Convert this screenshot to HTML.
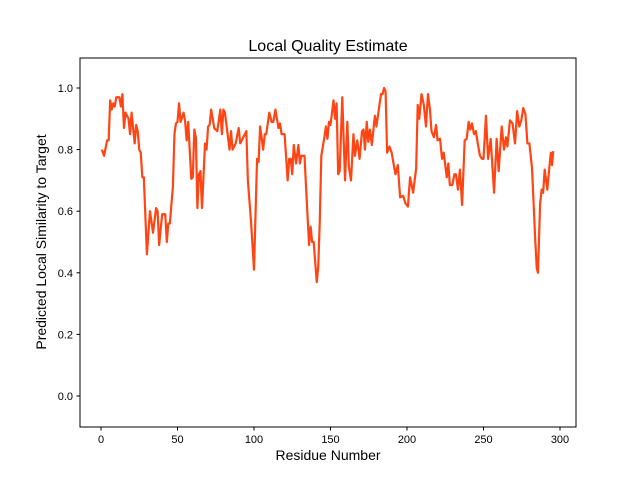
<!DOCTYPE html>
<html><head><meta charset="utf-8"><style>
html,body{margin:0;padding:0;background:#fff;}
svg text{font-family:"Liberation Sans","DejaVu Sans",sans-serif;fill:#000;}
</style></head><body>
<svg id="chart" width="640" height="480" viewBox="0 0 640 480" xmlns="http://www.w3.org/2000/svg">
<rect x="0" y="0" width="640" height="480" fill="#fff"/>
<text x="328" y="51" font-size="16" text-anchor="middle">Local Quality Estimate</text>
<text x="328" y="460" font-size="14" text-anchor="middle">Residue Number</text>
<text x="0" y="0" font-size="14" text-anchor="middle" transform="translate(46,242) rotate(-90)">Predicted Local Similarity to Target</text>
<g id="xticks"></g>
<g id="yticks"></g>
<path id="series" fill="none" stroke="#ff4513" stroke-width="2.2" stroke-linejoin="round"/>
<rect x="80" y="58" width="496" height="369" fill="none" stroke="#000" stroke-width="1"/>
</svg>
<script>
const residues = [0.5,2,4,5,6,7,8,9,10,12,13,14,15,16,18,19,20,22,23,24,25,26,27,28,30,32,34,36,37,38,40,42,43,44,45,47,48,49,50,51,52,54,55,56,57,59,60,61,62,63,64,65,66,68,69,70,71,72,74,76,78,79,80,81,84,85,86,88,90,91,93,95,96,98,100,102,103,104,106,107,108,110,111.5,112.6,114,116,117,118,120,122,123,124,125,126,127.5,129,130,131,133,134,136,137,138,139,141,142,143,144,146,147,148,149,150,152,153,154,155,156,157.7,159.5,161,162,163.4,165,166,167.5,169,170.6,171.6,172.5,173.7,174.7,175.8,177,179,180,183,184,185,186,187,188.5,190,191,192.5,194,195.5,197.5,199,200.6,202,204,206,207,208,209.5,211,212.4,213.7,215,216,217.6,219,220,221.6,222.9,224,226,227,228,229.6,231,232,233.3,234.6,236,237.7,239,240.3,241.4,242.5,243.8,245,246.4,247.7,249,250,251.6,253,254.7,256.9,258.6,259.9,261.9,263.4,264.7,265.6,267.3,269,270.6,272,273.4,274.7,276,277.4,278.7,280,281.7,283.7,284.8,285.6,287,288,289,290,291.7,293,294,294.8,295.6];
const scores = [0.80,0.78,0.83,0.83,0.96,0.93,0.95,0.94,0.97,0.97,0.94,0.98,0.87,0.92,0.90,0.85,0.92,0.82,0.88,0.86,0.80,0.79,0.71,0.71,0.46,0.60,0.53,0.61,0.60,0.49,0.59,0.59,0.50,0.56,0.56,0.68,0.85,0.885,0.89,0.95,0.89,0.92,0.89,0.83,0.89,0.705,0.71,0.865,0.84,0.61,0.72,0.73,0.61,0.82,0.80,0.875,0.88,0.93,0.87,0.86,0.93,0.85,0.93,0.92,0.80,0.86,0.80,0.82,0.87,0.82,0.84,0.86,0.70,0.57,0.41,0.77,0.76,0.875,0.80,0.85,0.85,0.92,0.89,0.89,0.93,0.87,0.885,0.85,0.85,0.70,0.77,0.77,0.72,0.815,0.755,0.815,0.755,0.78,0.78,0.68,0.49,0.55,0.50,0.50,0.37,0.42,0.57,0.78,0.84,0.875,0.835,0.89,0.88,0.96,0.90,0.95,0.72,0.73,0.97,0.70,0.89,0.745,0.70,0.85,0.78,0.83,0.77,0.86,0.865,0.80,0.89,0.825,0.865,0.815,0.91,0.875,0.98,0.98,1.0,0.99,0.79,0.81,0.79,0.76,0.72,0.75,0.645,0.65,0.625,0.615,0.71,0.66,0.74,0.945,0.90,0.98,0.945,0.875,0.98,0.93,0.86,0.84,0.88,0.83,0.835,0.77,0.79,0.71,0.755,0.685,0.685,0.72,0.72,0.67,0.735,0.62,0.83,0.835,0.89,0.865,0.885,0.85,0.86,0.815,0.78,0.77,0.77,0.91,0.77,0.835,0.66,0.835,0.73,0.875,0.80,0.84,0.81,0.895,0.885,0.82,0.925,0.875,0.895,0.935,0.915,0.82,0.82,0.74,0.52,0.415,0.40,0.625,0.67,0.66,0.735,0.67,0.74,0.79,0.75,0.795];
const xTickValues = [0,50,100,150,200,250,300];
const yTickLabels = ["0.0","0.2","0.4","0.6","0.8","1.0"];

const NS = "http://www.w3.org/2000/svg";
function xScale(r){ return 101 + r * 1.53; }
function yScale(v){ return 396 - v * 308; }

const xg = document.getElementById('xticks');
xTickValues.forEach(function(t){
  const x = xScale(t);
  const ln = document.createElementNS(NS,'line');
  
  
  ln.setAttribute('x1', x); ln.setAttribute('x2', x);
  ln.setAttribute('y1', 427); ln.setAttribute('y2', 430.5);
  ln.setAttribute('stroke', '#000');
  xg.appendChild(ln);
  const tx = document.createElementNS(NS,'text');
  
  
  tx.setAttribute('x', x); tx.setAttribute('y', 443);
  tx.setAttribute('font-size', '11');
  tx.setAttribute('text-anchor', 'middle');
  tx.textContent = String(t);
  xg.appendChild(tx);
});

const yg = document.getElementById('yticks');
yTickLabels.forEach(function(lbl){
  const y = yScale(parseFloat(lbl));
  const ln = document.createElementNS(NS,'line');
  
  
  ln.setAttribute('x1', 76.5); ln.setAttribute('x2', 80);
  ln.setAttribute('y1', y); ln.setAttribute('y2', y);
  ln.setAttribute('stroke', '#000');
  yg.appendChild(ln);
  const tx = document.createElementNS(NS,'text');
  
  
  tx.setAttribute('x', 73); tx.setAttribute('y', y + 4);
  tx.setAttribute('font-size', '11');
  tx.setAttribute('text-anchor', 'end');
  tx.textContent = lbl;
  yg.appendChild(tx);
});

let d = '';
residues.forEach(function(r, i){
  d += (i === 0 ? 'M' : 'L') + xScale(r).toFixed(2) + ' ' + yScale(scores[i]).toFixed(2) + ' ';
});
document.getElementById('series').setAttribute('d', d);
</script>
</body></html>
